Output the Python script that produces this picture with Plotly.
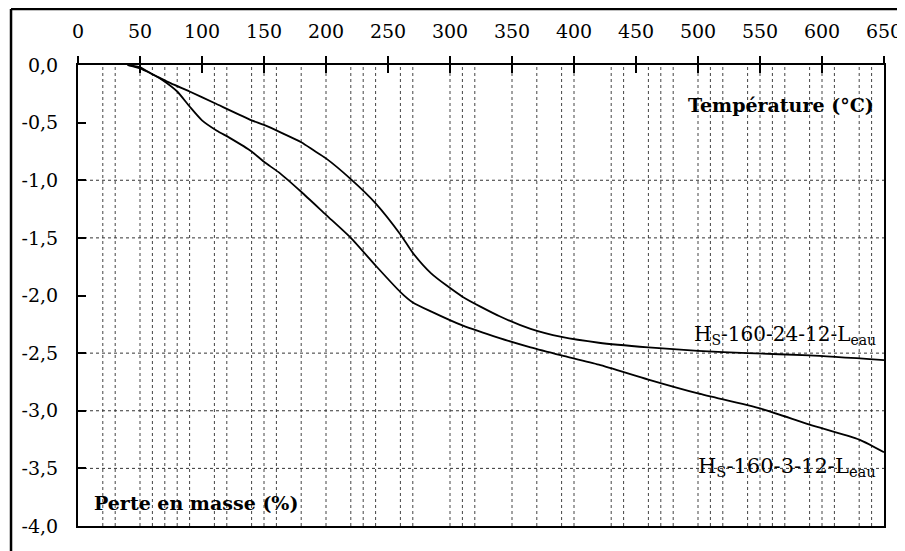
import plotly.graph_objects as go

# Data
temp_24 = [40, 50, 60, 75, 90, 110, 140, 150, 180, 190, 200, 220, 240, 260, 270, 285, 310, 340, 365, 390, 420, 460, 500, 540, 590, 650]
loss_24 = [0, -0.03, -0.08, -0.16, -0.23, -0.33, -0.48, -0.52, -0.67, -0.74, -0.81, -0.99, -1.2, -1.47, -1.63, -1.81, -2.01, -2.18, -2.29, -2.36, -2.41, -2.45, -2.48, -2.5, -2.52, -2.56]

temp_3 = [40, 50, 60, 68, 80, 90, 100, 112, 122, 140, 150, 163, 180, 200, 220, 240, 260, 270, 285, 310, 340, 365, 390, 420, 460, 500, 550, 590, 630, 650]
loss_3 = [0, -0.02, -0.08, -0.13, -0.23, -0.36, -0.48, -0.57, -0.63, -0.75, -0.84, -0.94, -1.1, -1.3, -1.5, -1.74, -1.97, -2.06, -2.14, -2.26, -2.37, -2.45, -2.52, -2.6, -2.73, -2.85, -2.98, -3.12, -3.25, -3.36]

x_ticks = list(range(0, 651, 50))
y_ticks = [0, -0.5, -1.0, -1.5, -2.0, -2.5, -3.0, -3.5, -4.0]
y_ticktext = ["0,0", "-0,5", "-1,0", "-1,5", "-2,0", "-2,5", "-3,0", "-3,5", "-4,0"]

grid_x = [20, 30, 50, 60, 70, 80, 90, 110, 120, 140, 150, 160, 180, 200, 220, 230, 240, 260, 270,
          300, 310, 320, 350, 370, 390, 400, 430, 440, 460, 470, 480, 500, 510, 520, 540, 550,
          560, 570, 590, 600, 610, 630, 640]
grid_y = [-1.0, -1.5, -2.5, -3.0, -3.5]

label_24 = "H<sub>S</sub>-160-24-12-L<sub>eau</sub>"
label_3 = "H<sub>S</sub>-160-3-12-L<sub>eau</sub>"

FONT = "DejaVu Serif"

fig = go.Figure()
fig.add_trace(go.Scatter(x=temp_24, y=loss_24, mode="lines", line=dict(color="black", width=1.8, shape="spline", smoothing=0.6),
                         showlegend=False, hoverinfo="skip"))
fig.add_trace(go.Scatter(x=temp_3, y=loss_3, mode="lines", line=dict(color="black", width=1.8, shape="spline", smoothing=0.6),
                         showlegend=False, hoverinfo="skip"))
# invisible trace anchoring the overlay axis that draws the outer half of the top ticks
fig.add_trace(go.Scatter(x=[x_ticks[0]], y=[y_ticks[0]], xaxis="x2", mode="markers",
                         marker=dict(opacity=0), showlegend=False, hoverinfo="skip"))

shapes = []
for gx in grid_x:
    shapes.append(dict(type="line", xref="x", yref="paper", x0=gx, x1=gx, y0=0, y1=1,
                       line=dict(color="#444", width=1, dash="dot"), layer="below"))
for gy in grid_y:
    shapes.append(dict(type="line", xref="paper", yref="y", x0=0, x1=1, y0=gy, y1=gy,
                       line=dict(color="#333", width=1, dash="dot"), layer="below"))
# outer frame (left & top)
shapes.append(dict(type="line", xref="paper", yref="paper", x0=-0.0831, x1=-0.0831, y0=-0.06, y1=1.1215,
                   line=dict(color="black", width=2.5)))
shapes.append(dict(type="line", xref="paper", yref="paper", x0=-0.0831, x1=1.03, y0=1.1215, y1=1.1215,
                   line=dict(color="black", width=2.5)))

fig.update_layout(
    width=897, height=543,
    margin=dict(l=70, r=21, t=57, b=25),
    paper_bgcolor="white", plot_bgcolor="white",
    font=dict(family=FONT, color="black", size=19),
    shapes=shapes,
    xaxis=dict(range=[0, 650], side="top", tickvals=x_ticks, ticks="inside", ticklen=8, tickwidth=2,
               tickcolor="black", showline=True, linecolor="black", linewidth=2, mirror=True,
               showgrid=False, zeroline=False, ticklabelstandoff=17, automargin=False,
               ticklabeloverflow="allow", tickfont=dict(family=FONT, size=19)),
    xaxis2=dict(range=[0, 650], side="top", overlaying="x", anchor="y", tickvals=x_ticks, ticks="outside",
                ticklen=8, tickwidth=2, tickcolor="black", showticklabels=False, showgrid=False,
                zeroline=False, showline=False, automargin=False),
    yaxis=dict(range=[-4, 0], tickvals=y_ticks, ticktext=y_ticktext, ticks="inside", ticklen=8, tickwidth=2,
               tickcolor="black", showline=True, linecolor="black", linewidth=2, mirror=True,
               showgrid=False, zeroline=False, ticklabelstandoff=14, automargin=False,
               tickfont=dict(family=FONT, size=19)),
    annotations=[
        dict(text="<b>Température (°C)</b>", xref="paper", yref="paper", x=0.99, y=0.913,
             xanchor="right", yanchor="middle", showarrow=False, font=dict(family=FONT, size=19)),
        dict(text="<b>Perte en masse (%)</b>", xref="paper", yref="paper", x=0.0174, y=0.05,
             xanchor="left", yanchor="middle", showarrow=False, font=dict(family=FONT, size=19)),
        dict(text=label_24, xref="paper", yref="y", x=0.9926, y=-2.34,
             xanchor="right", yanchor="middle", showarrow=False, font=dict(family=FONT, size=20)),
        dict(text=label_3, xref="paper", yref="y", x=0.9926, y=-3.49,
             xanchor="right", yanchor="middle", showarrow=False, font=dict(family=FONT, size=21)),
    ],
)

fig.write_html("out.html")
